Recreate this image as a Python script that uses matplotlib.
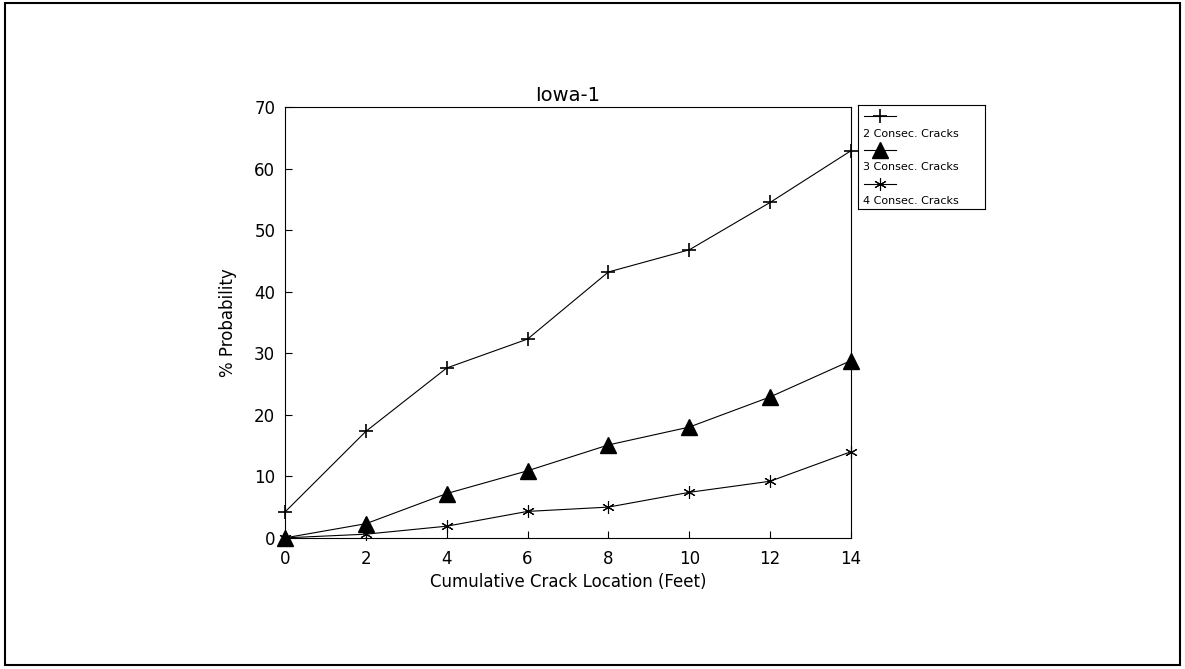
import numpy as np
import matplotlib.pyplot as plt
from matplotlib.patches import Rectangle

# data
location = [0, 2, 4, 6, 8, 10, 12, 14]
two_cracks = [4.2, 17.3, 27.6, 32.3, 43.2, 46.8, 54.5, 62.9]
three_cracks = [0.0, 2.3, 7.2, 10.9, 15.1, 18.0, 22.9, 28.8]
four_cracks = [0.0, 0.6, 1.9, 4.3, 5.0, 7.4, 9.2, 14.0]
labels = ['2 Consec. Cracks', '3 Consec. Cracks', '4 Consec. Cracks']

plt.rcParams['font.family'] = 'DejaVu Sans'

fig = plt.figure(figsize=(11.85, 6.69), dpi=100)
fig.patches.append(Rectangle((0.004, 0.006), 0.992, 0.989, transform=fig.transFigure,
                             fill=False, lw=1.5, ec='k'))

ax = fig.add_axes([0.2405, 0.196, 0.4776, 0.644])
ax.plot(location, two_cracks, c='k', lw=0.8, marker='+', ms=10, mew=1.2, clip_on=False)
ax.plot(location, three_cracks, c='k', lw=0.8, marker='^', ms=11, clip_on=False)
ax.plot(location, four_cracks, c='k', lw=0.8, marker=(6, 2, 0), ms=9, mew=0.8, clip_on=False)

ax.set_xlim(0, 14)
ax.set_ylim(0, 70)
ax.set_xticks(np.arange(0, 15, 2))
ax.set_yticks(np.arange(0, 71, 10))
ax.tick_params(direction='in', length=5, labelsize=12, width=0.8)
ax.tick_params(axis='x', pad=9)
ax.tick_params(axis='y', pad=7)
for s in ax.spines.values():
    s.set_linewidth(0.8)
ax.set_title('Iowa-1', fontsize=14, pad=4)
ax.set_xlabel('Cumulative Crack Location (Feet)', fontsize=12, labelpad=3)
ax.set_ylabel('% Probability', fontsize=12, labelpad=12)

# legend box, marker drawn above each label
lg = fig.add_axes([0.724, 0.688, 0.107, 0.155])
lg.set_xlim(0, 1)
lg.set_ylim(0, 1)
lg.set_xticks([])
lg.set_yticks([])
for s in lg.spines.values():
    s.set_linewidth(0.8)
styles = [dict(marker='+', ms=10, mew=1.2), dict(marker='^', ms=11), dict(marker=(6, 2, 0), ms=9, mew=0.8)]
for i, (lab, st) in enumerate(zip(labels, styles)):
    y = 0.89 - i * 0.325
    lg.plot([0.05, 0.3], [y, y], c='k', lw=0.8)
    lg.plot([0.175], [y], c='k', ls='none', **st)
    lg.text(0.04, y - 0.165, lab, fontsize=8, va='center', ha='left')

fig.savefig('out.png', dpi=100)
